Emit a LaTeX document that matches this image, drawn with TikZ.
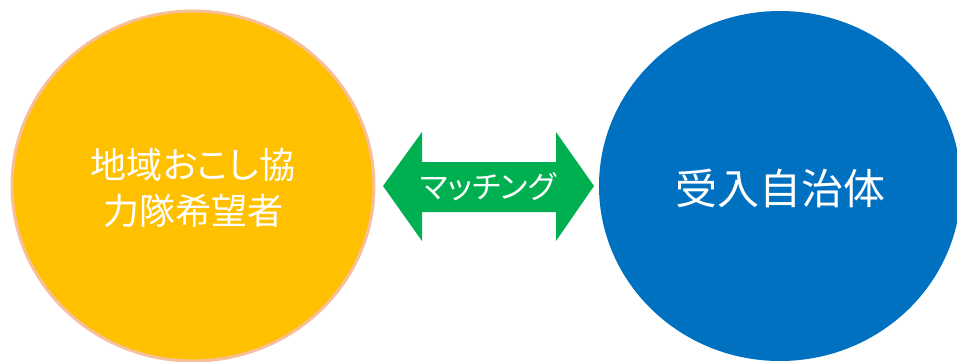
\documentclass[tikz,border=0pt]{standalone}
\usepackage{fontspec}
\newfontfamily\cjk[RawFeature=+palt]{Noto Sans CJK JP}
\usetikzlibrary{shapes.geometric}
\definecolor{orangefill}{HTML}{FFC000}
\definecolor{orangeline}{HTML}{F8C09A}
\definecolor{bluefill}{HTML}{0070C0}
\definecolor{greenfill}{HTML}{00B050}
\tikzset{
  bubble/.style={ellipse, minimum width=362pt, minimum height=350pt, inner sep=0pt},
  label/.style={text=white, font=\cjk, align=center}
}
\begin{document}
\begin{tikzpicture}[x=1pt,y=-1pt]
\useasboundingbox (0,0) rectangle (957,361);
\clip (0,0) rectangle (957,361);
\node[bubble, fill=orangefill, draw=orangeline, line width=3pt] (hope) at (193,186) {};
\node[bubble, fill=bluefill] (town) at (780,186) {};
\fill[greenfill] (383,186) -- (422,132) -- (422,162) -- (556,162) -- (556,132) -- (594,186) -- (556,241) -- (556,212) -- (422,212) -- (422,241) -- cycle;
\node[label, font=\cjk\fontsize{36}{46}\selectfont] (hopetext) at (193,188) {地域おこし協\\力隊希望者};
\node[label, font=\cjk\fontsize{31}{34}\selectfont] (match) at (488,187) {マッチング};
\node[label, font=\cjk\fontsize{42}{48}\selectfont] (towntext) at (780,188) {受入自治体};
\end{tikzpicture}
\end{document}
